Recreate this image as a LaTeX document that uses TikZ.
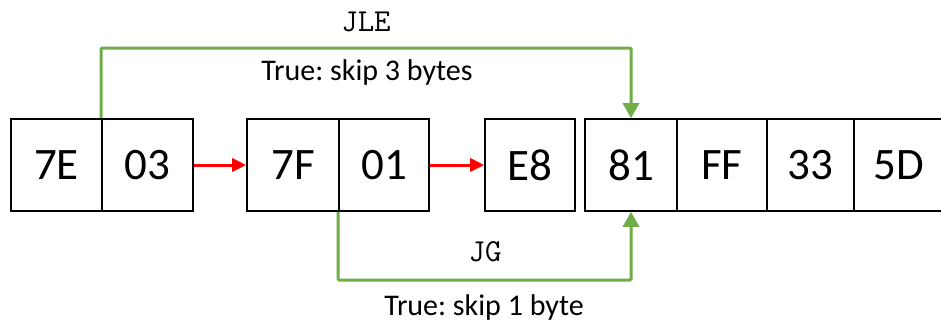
\documentclass[tikz,border=0pt]{standalone}
\usepackage{fontspec}
\setmainfont{Carlito}
\usetikzlibrary{arrows.meta}
\definecolor{jgreen}{HTML}{70AD47}
\tikzset{
  cell/.style={draw=black, line width=1.6pt, minimum height=92pt, inner sep=0pt, font=\fontsize{45}{48}\selectfont},
  jump/.style={draw=jgreen, line width=3pt, -{Triangle[length=15pt,width=16pt]}},
  flow/.style={draw=red, line width=3pt, -{Triangle[length=14pt,width=13pt]}},
  lbl/.style={font=\frenchspacing\fontsize{30}{32}\selectfont, inner sep=0pt},
  mono/.style={font=\ttfamily\fontsize{32}{34}\selectfont, inner sep=0pt},
}
\begin{document}
\begin{tikzpicture}[x=1pt,y=-1pt]
\useasboundingbox (0,0) rectangle (941,325);
\begin{scope}
\clip (0,0) rectangle (941,325);
\node[cell, minimum width=91pt] (c7E) at (56.5,165) {7E};
\node[cell, minimum width=91pt] (c03) at (147.5,165) {03};
\node[cell, minimum width=92pt] (c7F) at (293,165) {7F};
\node[cell, minimum width=90pt] (c01) at (384,165) {01};
\node[cell, minimum width=90pt] (cE8) at (530,165) {E8};
\node[cell, minimum width=92pt] (c81) at (631,165) {81};
\node[cell, minimum width=90pt] (cFF) at (722,165) {FF};
\node[cell, minimum width=87pt] (c33) at (810.5,165) {33};
\node[cell, minimum width=89pt] (c5D) at (898.5,165) {5D};
\end{scope}
\draw[flow] (c03.east) -- (c7F.west);
\draw[flow] (c01.east) -- (cE8.west);
\coordinate (jlemid) at (366,48);
\coordinate (jgmid) at (485,280);
\draw[jump, rounded corners=1pt] (c03.north west) |- (jlemid) -| (c81.north);
\draw[jump, rounded corners=1pt] (c01.south west) |- (jgmid) -| (c81.south);
\node[mono] (jle) at (366,22) {JLE};
\node[lbl] (t3) at (367,72) {True: skip 3 bytes};
\node[mono] (jg) at (485,252) {JG};
\node[lbl] (t1) at (484,307) {True: skip 1 byte};
\end{tikzpicture}
\end{document}
